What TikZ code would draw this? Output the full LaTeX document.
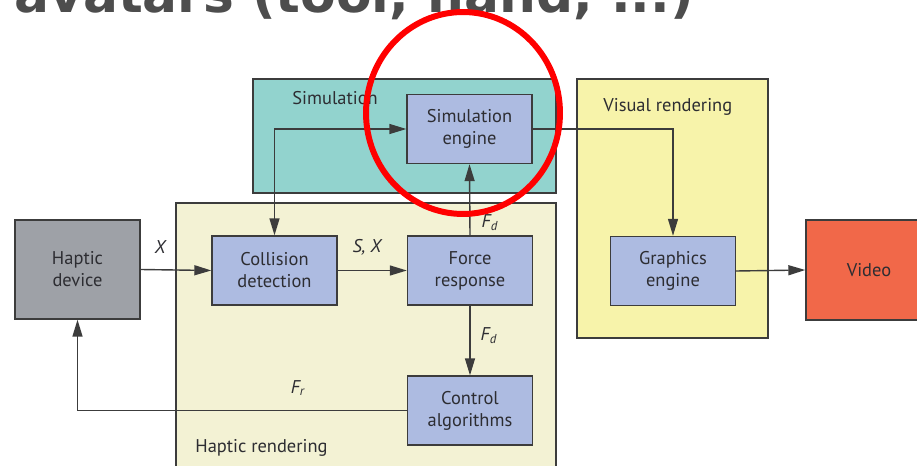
\documentclass[tikz,border=0pt]{standalone}
\usepackage{fontspec}
\setmainfont{PT Sans}
\newfontfamily\titlefont{DejaVu Sans}
\usepackage{xcolor}
\usetikzlibrary{positioning,arrows.meta}

\definecolor{simteal}{RGB}{146,211,206}
\definecolor{visyellow}{RGB}{247,243,170}
\definecolor{hapyellow}{RGB}{243,242,212}
\definecolor{blocklav}{RGB}{173,187,225}
\definecolor{devgray}{RGB}{158,161,167}
\definecolor{videored}{RGB}{241,104,73}
\definecolor{linegray}{RGB}{60,60,60}
\definecolor{textgray}{RGB}{45,45,50}
\definecolor{titlegray}{RGB}{77,77,77}

\begin{document}
\begin{tikzpicture}[x=0.02cm, y=-0.02cm, >={Triangle[length=0.34cm,width=0.2cm]}]
  \tikzset{
    grp/.style={draw=linegray, line width=0.8pt},
    blk/.style={draw=linegray, line width=0.8pt, fill=blocklav, text=textgray,
                minimum width=2.5cm, minimum height=1.38cm, align=center,
                inner sep=0pt, font=\fontsize{10.5}{12.5}\selectfont},
    lbl/.style={font=\fontsize{10.5}{12.5}\selectfont, text=textgray,
                inner sep=0pt, anchor=base west},
    sig/.style={font=\fontsize{10.5}{12.5}\selectfont\itshape, text=textgray,
                inner sep=0pt},
    arr/.style={->, draw=linegray, line width=0.8pt}
  }
  \useasboundingbox (0,0) rectangle (917,466);

  % Heading, cut off at the top
  \node[anchor=base west, inner sep=0pt, text=titlegray,
        font=\titlefont\bfseries\fontsize{29.5}{30}\selectfont] (title)
    at (14,13) {avatars (tool, hand, ...)};

  % Subsystem frames
  \draw[grp, fill=simteal]   (253,79)  rectangle (556,193);
  \draw[grp, fill=visyellow] (577,79)  rectangle (768,338);
  \draw[grp, fill=hapyellow] (176,203) rectangle (556,480);
  \node[lbl] (simlbl) at (292,105) {Simulation};
  \node[lbl] (vislbl) at (603,112) {Visual rendering};
  \node[lbl] (haplbl) at (195,452) {Haptic rendering};

  % Blocks
  \node[blk] (sim)   at (469.5,129)   {Simulation\\engine};
  \node[blk, fill=devgray, minimum height=1.98cm] (dev) at (77.5,269.5) {Haptic\\device};
  \node[blk] (coll)  at (274.5,270.5) {Collision\\detection};
  \node[blk] (force) at (470,270.5)   {Force\\response};
  \node[blk] (gfx)   at (673,271)     {Graphics\\engine};
  \node[blk] (ctrl)  at (470,410.5)   {Control\\algorithms};
  \node[blk, fill=videored, minimum width=2.52cm, minimum height=2cm] (video)
    at (869,270) {Video};

  % Signal paths
  \draw[arr] (dev.east) -- (coll.west);
  \draw[arr] (coll.east) -- (force.west);
  \draw[arr, <->] (coll.north) |- (sim.west);
  \draw[arr] (force.north) -- (sim.south);
  \draw[arr] (force.south) -- (ctrl.north);
  \draw[arr] (ctrl.west) -| (dev.south);
  \draw[arr] (sim.east) -| (gfx.north);
  \draw[arr] (gfx.east) -- (video.west);

  \node[sig] (lx)  at (160,247) {X};
  \node[sig] (lsx) at (367,247) {S, X};
  \node[sig] (lfd) at (490,223) {F\textsubscript{d}};
  \node[sig] (lfc) at (489,336) {F\textsubscript{d}};
  \node[sig] (lfr) at (298,388) {F\textsubscript{r}};

  % Highlight ring
  \draw[red, line width=3.4pt] (463,113) ellipse [x radius=1.94cm, y radius=2.02cm];
\end{tikzpicture}
\end{document}
